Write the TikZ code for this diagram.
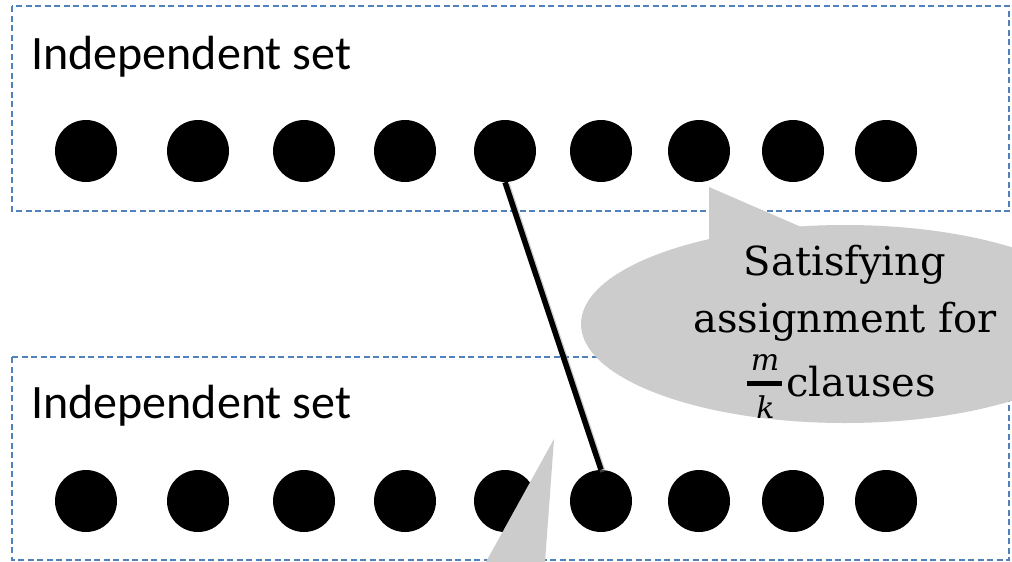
\documentclass[tikz,border=0pt]{standalone}
\usepackage{fontspec}
\setmainfont{Carlito}
\newfontfamily\calloutfont{DejaVu Serif}
\usetikzlibrary{shapes.geometric}
\definecolor{boxblue}{RGB}{79,129,189}
\definecolor{callgray}{RGB}{204,204,204}
\tikzset{
  dot/.style={circle,fill=black,minimum size=62pt,inner sep=0pt},
  setbox/.style={draw=boxblue,line width=1.5pt,dash pattern=on 6pt off 3.5pt},
  settitle/.style={anchor=base west,inner sep=0pt,font=\fontsize{48}{58}\selectfont},
  ctext/.style={anchor=base,inner sep=0pt,font=\calloutfont\fontsize{40}{48}\selectfont},
  fracpart/.style={anchor=base,inner sep=0pt,font=\calloutfont\itshape\fontsize{30}{36}\selectfont},
  callout/.style={fill=callgray},
  link/.style={line width=5.5pt},
  linkshadow/.style={line width=5.5pt,black!45,opacity=.45}
}
\begin{document}
\begin{tikzpicture}[x=1pt,y=-1pt]
\clip (0,0) rectangle (1012,562);
\fill[white] (0,0) rectangle (1012,562);
% boxes
\draw[setbox] (12,6) rectangle (1009,211);
\draw[setbox] (12,357) rectangle (1009,560);
\node[settitle] (t1) at (31,69) {Independent set};
\node[settitle] (t2) at (31,418) {Independent set};
% dots
\foreach \x [count=\i] in {86,198,304,405,505,601,699,793,886} {
  \node[dot] (a\i) at (\x,151) {};
  \node[dot] (b\i) at (\x,501) {};
}
% connector
\draw[linkshadow] ([shift={(2,2)}]a5.south) -- ([shift={(2,2)}]b6.north);
\draw[link] (a5.south) -- (b6.north);
% upper callout
\node[callout,ellipse,minimum width=528pt,minimum height=198pt,inner sep=0pt] (cb) at (845,324) {};
\fill[callout] (709,187) -- (830,239.5) -- (709,260) -- cycle;
\node[ctext] (c1) at (845,275) {Satisfying};
\node[ctext] (c2) at (845,332) {assignment for};
\node[fracpart] (fm) at (765,370) {m};
\fill[black] (747,381) rectangle (782,386);
\node[fracpart] (fk) at (765.5,418) {k};
\node[ctext,anchor=base west] (c3) at (786,396) {clauses};
% lower callout tail
\fill[callout] (554,439) -- (543.7,580) -- (476,580) -- cycle;
\end{tikzpicture}
\end{document}
